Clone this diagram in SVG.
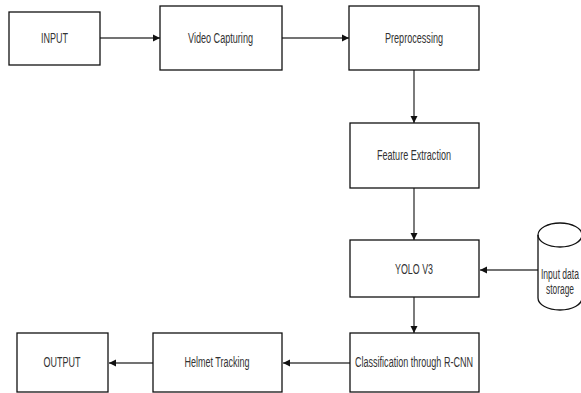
<svg xmlns="http://www.w3.org/2000/svg" width="581" height="393" viewBox="0 0 581 393">
<style>
.box{fill:#fff;stroke:#111;stroke-width:1.3}
.lbl{font-family:"Liberation Sans",Arial,sans-serif;font-size:14px;fill:#333;text-anchor:middle}
.conn{stroke:#444;stroke-width:1.4;fill:none;marker-end:url(#ah)}
</style>
<defs>
<marker id="ah" markerWidth="8" markerHeight="8" refX="7" refY="4" orient="auto" markerUnits="userSpaceOnUse">
<path d="M0,0.5 L7,4 L0,7.5 Z" fill="#111"/>
</marker>
</defs>
<rect width="581" height="393" fill="#fff"/>
<g id="connectors">
<line class="conn" x1="100" y1="38" x2="160" y2="38"/>
<line class="conn" x1="282" y1="38" x2="349" y2="38"/>
<line class="conn" x1="414" y1="70" x2="414" y2="123"/>
<line class="conn" x1="414" y1="188" x2="414" y2="240"/>
<line class="conn" x1="538" y1="270" x2="480" y2="270"/>
<line class="conn" x1="414" y1="297" x2="414" y2="333"/>
<line class="conn" x1="350" y1="363" x2="283" y2="363"/>
<line class="conn" x1="153" y1="363" x2="109" y2="363"/>
</g>
<g id="input">
<rect class="box" x="9" y="12" width="91" height="53"/>
<text class="lbl" x="54.5" y="43" textLength="27" lengthAdjust="spacingAndGlyphs">INPUT</text>
</g>
<g id="video">
<rect class="box" x="160" y="6" width="122" height="64"/>
<text class="lbl" x="220.5" y="43" textLength="65" lengthAdjust="spacingAndGlyphs">Video Capturing</text>
</g>
<g id="preprocessing">
<rect class="box" x="349" y="6" width="130" height="64"/>
<text class="lbl" x="414" y="43" textLength="58" lengthAdjust="spacingAndGlyphs">Preprocessing</text>
</g>
<g id="feature">
<rect class="box" x="350" y="123" width="129" height="65"/>
<text class="lbl" x="414" y="160" textLength="74" lengthAdjust="spacingAndGlyphs">Feature Extraction</text>
</g>
<g id="yolo">
<rect class="box" x="350" y="240" width="129" height="57"/>
<text class="lbl" x="414" y="274" textLength="38" lengthAdjust="spacingAndGlyphs">YOLO V3</text>
</g>
<g id="storage">
<path class="box" d="M538,235 A22,12 0 0 1 582,235 L582,298 A22,12 0 0 1 538,298 Z"/>
<path d="M538,235 A22,12 0 0 0 582,235" fill="none" stroke="#111" stroke-width="1.3"/>
<text class="lbl" x="560" y="279" textLength="38" lengthAdjust="spacingAndGlyphs">Input data</text>
<text class="lbl" x="560" y="294" textLength="28" lengthAdjust="spacingAndGlyphs">storage</text>
</g>
<g id="classification">
<rect class="box" x="350" y="333" width="129" height="59"/>
<text class="lbl" x="414" y="367" textLength="118" lengthAdjust="spacingAndGlyphs">Classification through R-CNN</text>
</g>
<g id="helmet">
<rect class="box" x="153" y="333" width="129" height="59"/>
<text class="lbl" x="217" y="367" textLength="65" lengthAdjust="spacingAndGlyphs">Helmet Tracking</text>
</g>
<g id="output">
<rect class="box" x="17" y="333" width="91" height="59"/>
<text class="lbl" x="62" y="367" textLength="37" lengthAdjust="spacingAndGlyphs">OUTPUT</text>
</g>
</svg>
